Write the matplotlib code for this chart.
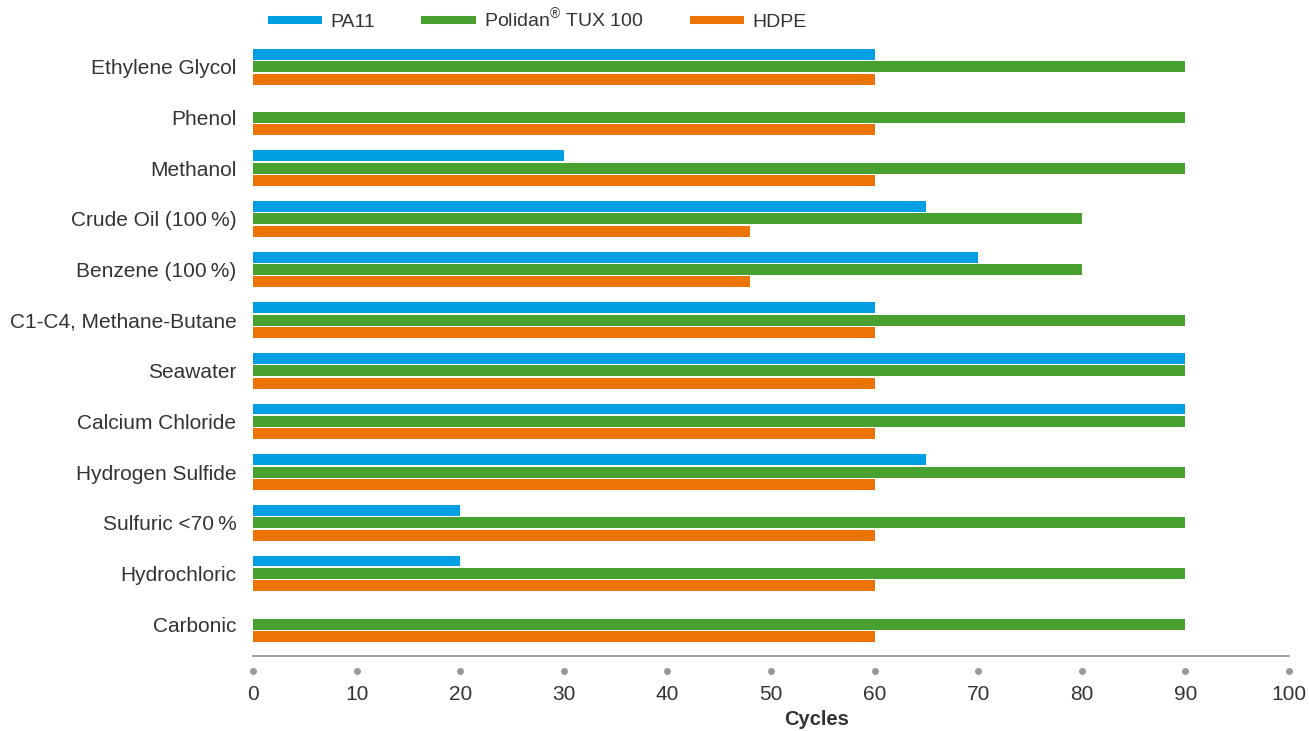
import numpy as np
import matplotlib
matplotlib.use("Agg")
import matplotlib.pyplot as plt
from matplotlib.lines import Line2D

categories = ["Ethylene Glycol", "Phenol", "Methanol", "Crude Oil (100\u2009%)",
              "Benzene (100\u2009%)", "C1-C4, Methane-Butane", "Seawater",
              "Calcium Chloride", "Hydrogen Sulfide", "Sulfuric <70\u2009%",
              "Hydrochloric", "Carbonic"]
pa11 = [60, 0, 30, 65, 70, 60, 90, 90, 65, 20, 20, 0]
polidan = [90, 90, 90, 80, 80, 90, 90, 90, 90, 90, 90, 90]
hdpe = [60, 60, 60, 48, 48, 60, 60, 60, 60, 60, 60, 60]
x_ticks = [0, 10, 20, 30, 40, 50, 60, 70, 80, 90, 100]
series_names = ["PA11", "Polidan$^{\\mathrm{\u00ae}}$ TUX 100", "HDPE"]

BLUE = "#009fe3"
GREEN = "#48a02f"
ORANGE = "#ec7405"
TEXT = "#333333"

plt.rcParams["font.family"] = ["Liberation Sans", "DejaVu Sans"]
plt.rcParams["mathtext.fontset"] = "custom"
plt.rcParams["mathtext.rm"] = "Liberation Sans"

W, H = 1309, 731
fig = plt.figure(figsize=(W / 100, H / 100), dpi=100)
ax = fig.add_axes([253 / W, 1 - 656 / H, (1289 - 253) / W, (656 - 40) / H])

y = np.arange(len(categories))
off = 0.245
h = 0.215
ax.barh(y - off, pa11, height=h, color=BLUE)
ax.barh(y, polidan, height=h, color=GREEN)
ax.barh(y + off, hdpe, height=h, color=ORANGE)

ax.set_xlim(0, 100)
ax.set_ylim(11.63, -0.53)
ax.set_yticks(y)
ax.set_yticklabels(categories, fontsize=15, color=TEXT)
ax.set_xticks(x_ticks)
ax.set_xticklabels([str(t) for t in x_ticks], fontsize=15, color=TEXT)
ax.tick_params(axis="y", length=0, pad=12)
ax.tick_params(axis="x", length=0, pad=21)

for s in ["top", "right", "left"]:
    ax.spines[s].set_visible(False)
ax.spines["bottom"].set_color("#999999")
ax.spines["bottom"].set_linewidth(1.3)

# grey dots under the axis line
ax.scatter(x_ticks, [-0.024] * len(x_ticks), s=16, color="#999999",
           transform=ax.get_xaxis_transform(), clip_on=False, zorder=3)

ax.set_xlabel("Cycles", fontsize=14.5, fontweight="bold", color=TEXT)
ax.xaxis.set_label_coords((817 - 253) / 1036, -0.087)

lh = [Line2D([], [], color=c, lw=5.8, solid_capstyle="butt")
      for c in [BLUE, GREEN, ORANGE]]
fig.legend(lh, series_names, loc="center left", bbox_to_anchor=(250 / W, 1 - 19 / H),
           ncol=3, frameon=False, fontsize=14, handlelength=2.8,
           columnspacing=2.35, handletextpad=0.45, labelcolor=TEXT)

fig.savefig("out.png", dpi=100)
